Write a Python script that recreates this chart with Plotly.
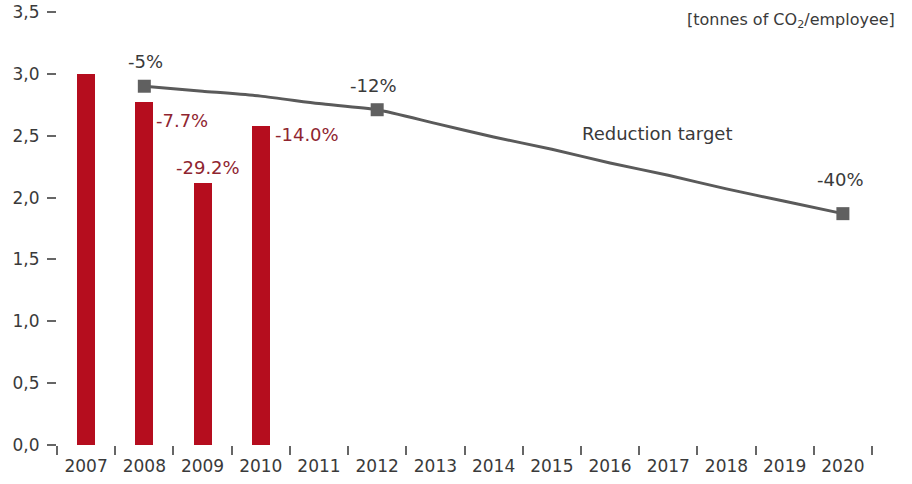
import plotly.graph_objects as go

# CO2 emissions per employee (tonnes), actual years
bar_years = ["2007", "2008", "2009", "2010"]
bar_values = [3.00, 2.77, 2.12, 2.58]
bar_labels = ["", "-7.7%", "-29.2%", "-14.0%"]

# Reduction target path
target_years = ["2008", "2009", "2010", "2011", "2012", "2013", "2014",
                "2015", "2016", "2017", "2018", "2019", "2020"]
target_values = [2.90, 2.86, 2.82, 2.76, 2.71, 2.60, 2.49,
                 2.39, 2.28, 2.18, 2.07, 1.97, 1.87]

# Milestones of the target with their labels
milestone_years = ["2008", "2012", "2020"]
milestone_labels = ["-5%", "-12%", "-40%"]

all_years = [str(y) for y in range(2007, 2021)]
y_ticks = [0, 0.5, 1.0, 1.5, 2.0, 2.5, 3.0, 3.5]
y_tick_text = ["0,0", "0,5", "1,0", "1,5", "2,0", "2,5", "3,0", "3,5"]

FONT = "DejaVu Sans"
BAR_RED = "#b50d1e"
LABEL_RED = "#8f2530"
GREY_LINE = "#5a5a5a"
TEXT = "#3a3a3a"


def pos(year):
    """Category index of a year on the x axis."""
    return all_years.index(year)


milestone_values = [target_values[target_years.index(y)] for y in milestone_years]

fig = go.Figure()

fig.add_trace(go.Bar(
    x=bar_years, y=bar_values,
    marker=dict(color=BAR_RED, line=dict(width=0)),
    width=0.31,
    hoverinfo="skip",
))

fig.add_trace(go.Scatter(
    x=target_years, y=target_values,
    mode="lines",
    line=dict(color=GREY_LINE, width=3, shape="spline", smoothing=0.6),
    hoverinfo="skip",
))

fig.add_trace(go.Scatter(
    x=milestone_years, y=milestone_values,
    mode="markers",
    marker=dict(symbol="square", size=13, color="#606060"),
    hoverinfo="skip",
))

annotations = []

# bar percentage labels
bar_offsets = {
    "-7.7%": dict(xanchor="left", xshift=10, yshift=-18),
    "-29.2%": dict(xanchor="center", xshift=5, yshift=15),
    "-14.0%": dict(xanchor="left", xshift=12, yshift=-9),
}
for yr, val, lab in zip(bar_years, bar_values, bar_labels):
    if not lab:
        continue
    o = bar_offsets[lab]
    annotations.append(dict(
        x=pos(yr), y=val, text=lab, showarrow=False, yanchor="middle",
        xanchor=o["xanchor"], xshift=o["xshift"], yshift=o["yshift"],
        font=dict(family=FONT, size=18, color=LABEL_RED),
    ))

# milestone labels
ms_offsets = [(1, 25), (-4, 24), (-2, 34)]
for yr, val, lab, (dx, dy) in zip(milestone_years, milestone_values,
                                  milestone_labels, ms_offsets):
    annotations.append(dict(
        x=pos(yr), y=val, text=lab, showarrow=False,
        xanchor="center", yanchor="middle", xshift=dx, yshift=dy,
        font=dict(family=FONT, size=18, color=TEXT),
    ))

annotations.append(dict(
    x=9.80, y=2.52, text="Reduction target", showarrow=False,
    xanchor="center", yanchor="middle",
    font=dict(family=FONT, size=18, color=TEXT),
))

annotations.append(dict(
    xref="paper", yref="paper", x=1.031, y=0.98,
    text="[tonnes of CO<sub>2</sub>/employee]", showarrow=False,
    xanchor="right", yanchor="middle",
    font=dict(family=FONT, size=16, color=TEXT),
))

fig.update_layout(
    width=912, height=484,
    margin=dict(l=57, r=40, t=12, b=39, autoexpand=False),
    paper_bgcolor="white", plot_bgcolor="white",
    showlegend=False,
    bargap=0,
    annotations=annotations,
    font=dict(family=FONT, size=17, color=TEXT),
)

fig.update_xaxes(
    type="category",
    categoryorder="array", categoryarray=all_years,
    range=[-0.5, 13.5],
    tickson="boundaries",
    ticks="outside", ticklen=9, tickwidth=1.5, tickcolor="#666666",
    ticklabelstandoff=9,
    showline=False, showgrid=False, zeroline=False,
    tickfont=dict(family=FONT, size=17, color=TEXT),
    automargin=False,
    fixedrange=True,
)

fig.update_yaxes(
    range=[0, 3.5],
    tickvals=y_ticks, ticktext=y_tick_text,
    ticks="outside", ticklen=9, tickwidth=1.5, tickcolor="#666666",
    ticklabelstandoff=4,
    showline=False, showgrid=False, zeroline=False,
    tickfont=dict(family=FONT, size=17, color=TEXT),
    automargin=False,
    fixedrange=True,
)

fig.write_html("out.html")
